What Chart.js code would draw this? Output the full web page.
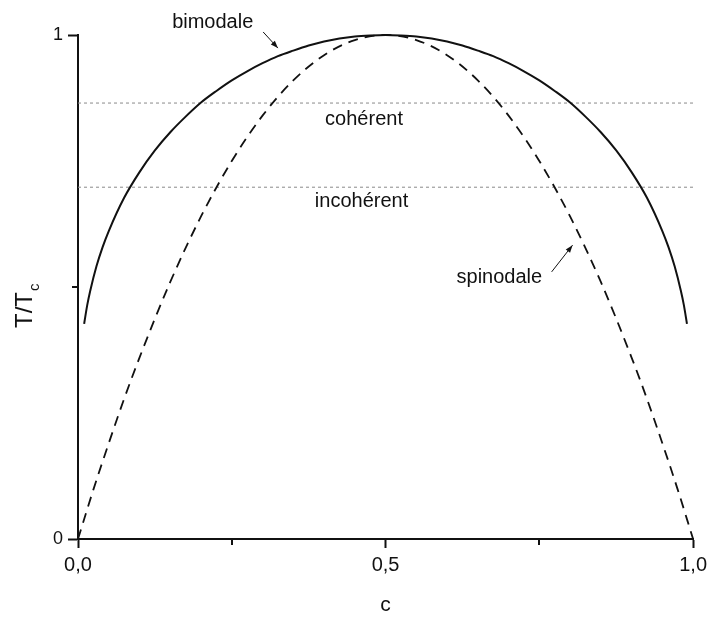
<!DOCTYPE html>
<html>
<head>
<meta charset="utf-8">
<script src="https://cdn.jsdelivr.net/npm/chart.js@4"></script>
<style>
  html, body { margin: 0; padding: 0; background: #fff; }
  #wrap { width: 712px; height: 619px; }
</style>
</head>
<body>
<div id="wrap"><canvas id="chart" width="712" height="619"></canvas></div>
<script>
// ── Data ────────────────────────────────────────────────────────────────────
const binodalC = [0.01, 0.015, 0.02, 0.03, 0.04, 0.05, 0.075, 0.1, 0.125, 0.15, 0.175, 0.2, 0.225,
  0.25, 0.275, 0.3, 0.325, 0.35, 0.375, 0.4, 0.425, 0.45, 0.475, 0.5, 0.525, 0.55, 0.575, 0.6,
  0.625, 0.65, 0.675, 0.7, 0.725, 0.75, 0.775, 0.8, 0.825, 0.85, 0.875, 0.9, 0.925, 0.95, 0.96,
  0.97, 0.98, 0.985, 0.99];
const binodalT = [0.427, 0.464, 0.493, 0.541, 0.579, 0.611, 0.677, 0.728, 0.771, 0.807, 0.838, 0.866,
  0.889, 0.910, 0.928, 0.944, 0.958, 0.969, 0.979, 0.987, 0.993, 0.997, 0.999, 1.000, 0.999, 0.997,
  0.993, 0.987, 0.979, 0.969, 0.958, 0.944, 0.928, 0.910, 0.889, 0.866, 0.838, 0.807, 0.771, 0.728,
  0.677, 0.611, 0.579, 0.541, 0.493, 0.464, 0.427];

const spinodalC = [0, 0.025, 0.05, 0.075, 0.1, 0.15, 0.2, 0.25, 0.3, 0.35, 0.4, 0.45, 0.5,
  0.55, 0.6, 0.65, 0.7, 0.75, 0.8, 0.85, 0.9, 0.925, 0.95, 0.975, 1];
const spinodalT = [0, 0.098, 0.19, 0.278, 0.36, 0.51, 0.64, 0.75, 0.84, 0.91, 0.96, 0.99, 1,
  0.99, 0.96, 0.91, 0.84, 0.75, 0.64, 0.51, 0.36, 0.278, 0.19, 0.098, 0];

// horizontal reference levels (cohérent / incohérent)
const levelC = [0, 1];
const levelCoherent = 0.865;
const levelIncoherent = 0.698;

const xMajorTicks = [0, 0.5, 1];
const xMinorTicks = [0.25, 0.75];
const yMajorTicks = [0, 1];
const yMinorTicks = [0.5];

// annotation texts: [text, c, T]
const labels = [
  ['bimodale', 0.219, 1.014],
  ['cohérent', 0.465, 0.821],
  ['incohérent', 0.461, 0.659],
  ['spinodale', 0.685, 0.508],
];
// arrows: [c0, T0, c1, T1]
const arrows = [
  [0.301, 1.006, 0.325, 0.974],
  [0.770, 0.530, 0.804, 0.583],
];

const FONT = "'Liberation Sans', Arial, sans-serif";
const pts = (xs, ys) => xs.map((x, i) => ({ x, y: ys[i] }));

// ── Extras: minor ticks, annotations, y title ───────────────────────────────
const extras = {
  id: 'extras',
  afterDraw(chart) {
    const { ctx, scales: { x, y } } = chart;
    ctx.save();
    ctx.strokeStyle = '#111';
    ctx.lineWidth = 2;
    // minor ticks
    xMinorTicks.forEach(v => {
      const px = Math.round(x.getPixelForValue(v));
      ctx.beginPath();
      ctx.moveTo(px, y.bottom);
      ctx.lineTo(px, y.bottom + 6);
      ctx.stroke();
    });
    yMinorTicks.forEach(v => {
      const py = Math.round(y.getPixelForValue(v));
      ctx.beginPath();
      ctx.moveTo(x.left, py);
      ctx.lineTo(x.left - 6, py);
      ctx.stroke();
    });

    // labels
    ctx.fillStyle = '#111';
    ctx.font = `20px ${FONT}`;
    ctx.textAlign = 'center';
    ctx.textBaseline = 'alphabetic';
    labels.forEach(([t, c, T]) => {
      ctx.fillText(t, x.getPixelForValue(c), y.getPixelForValue(T));
    });

    // arrows
    ctx.lineWidth = 1;
    ctx.strokeStyle = '#111';
    arrows.forEach(([c0, T0, c1, T1]) => {
      const x0 = x.getPixelForValue(c0), y0 = y.getPixelForValue(T0);
      const x1 = x.getPixelForValue(c1), y1 = y.getPixelForValue(T1);
      ctx.beginPath();
      ctx.moveTo(x0, y0);
      ctx.lineTo(x1, y1);
      ctx.stroke();
      const a = Math.atan2(y1 - y0, x1 - x0);
      const L = 8, W = 0.35;
      ctx.beginPath();
      ctx.moveTo(x1, y1);
      ctx.lineTo(x1 - L * Math.cos(a - W), y1 - L * Math.sin(a - W));
      ctx.lineTo(x1 - L * Math.cos(a + W), y1 - L * Math.sin(a + W));
      ctx.closePath();
      ctx.fill();
    });

    // y axis title T/Tc
    ctx.translate(32, 328);
    ctx.rotate(-Math.PI / 2);
    ctx.textAlign = 'left';
    ctx.font = `24px ${FONT}`;
    ctx.fillText('T/T', 0, 0);
    const w = ctx.measureText('T/T').width;
    ctx.font = `15px ${FONT}`;
    ctx.fillText('c', w + 1, 7);
    ctx.restore();
  }
};

new Chart(document.getElementById('chart'), {
  type: 'scatter',
  data: {
    datasets: [
      {
        label: 'bimodale',
        data: pts(binodalC, binodalT),
        showLine: true,
        borderColor: '#111',
        borderWidth: 2,
        pointRadius: 0,
        cubicInterpolationMode: 'monotone',
        clip: false,
      },
      {
        label: 'spinodale',
        data: pts(spinodalC, spinodalT),
        showLine: true,
        borderColor: '#111',
        borderWidth: 1.8,
        borderDash: [10, 7],
        pointRadius: 0,
        cubicInterpolationMode: 'monotone',
        clip: false,
      },
      {
        label: 'cohérent',
        data: pts(levelC, levelC.map(() => levelCoherent)),
        showLine: true,
        borderColor: '#8a8a8a',
        borderWidth: 1,
        borderDash: [3, 3],
        pointRadius: 0,
      },
      {
        label: 'incohérent',
        data: pts(levelC, levelC.map(() => levelIncoherent)),
        showLine: true,
        borderColor: '#8a8a8a',
        borderWidth: 1,
        borderDash: [3, 3],
        pointRadius: 0,
      },
    ],
  },
  options: {
    responsive: false,
    animation: false,
    layout: { padding: { top: 35, right: 18, left: 0, bottom: 0 } },
    plugins: { legend: { display: false }, tooltip: { enabled: false } },
    scales: {
      x: {
        type: 'linear',
        min: 0,
        max: 1,
        afterBuildTicks: s => { s.ticks = xMajorTicks.map(v => ({ value: v })); },
        afterFit: s => { s.height = 80; },
        grid: { drawOnChartArea: false, drawTicks: true, tickLength: 9, tickWidth: 2, tickColor: '#111' },
        border: { color: '#111', width: 2 },
        ticks: {
          color: '#111',
          padding: 5,
          font: { family: FONT, size: 20 },
          maxRotation: 0,
          callback: v => v.toFixed(1).replace('.', ','),
        },
        title: {
          display: true,
          text: 'c',
          color: '#111',
          font: { family: FONT, size: 21 },
          padding: { top: 0, bottom: 1 },
        },
      },
      y: {
        type: 'linear',
        min: 0,
        max: 1,
        afterBuildTicks: s => { s.ticks = yMajorTicks.map(v => ({ value: v })); },
        afterFit: s => { s.width = 78; },
        grid: { drawOnChartArea: false, drawTicks: true, tickLength: 10, tickWidth: 2, tickColor: '#111' },
        border: { color: '#111', width: 2 },
        ticks: {
          color: '#111',
          padding: 5,
          font: { family: FONT, size: 18 },
          callback: v => String(v),
        },
      },
    },
  },
  plugins: [extras],
});
</script>
</body>
</html>
